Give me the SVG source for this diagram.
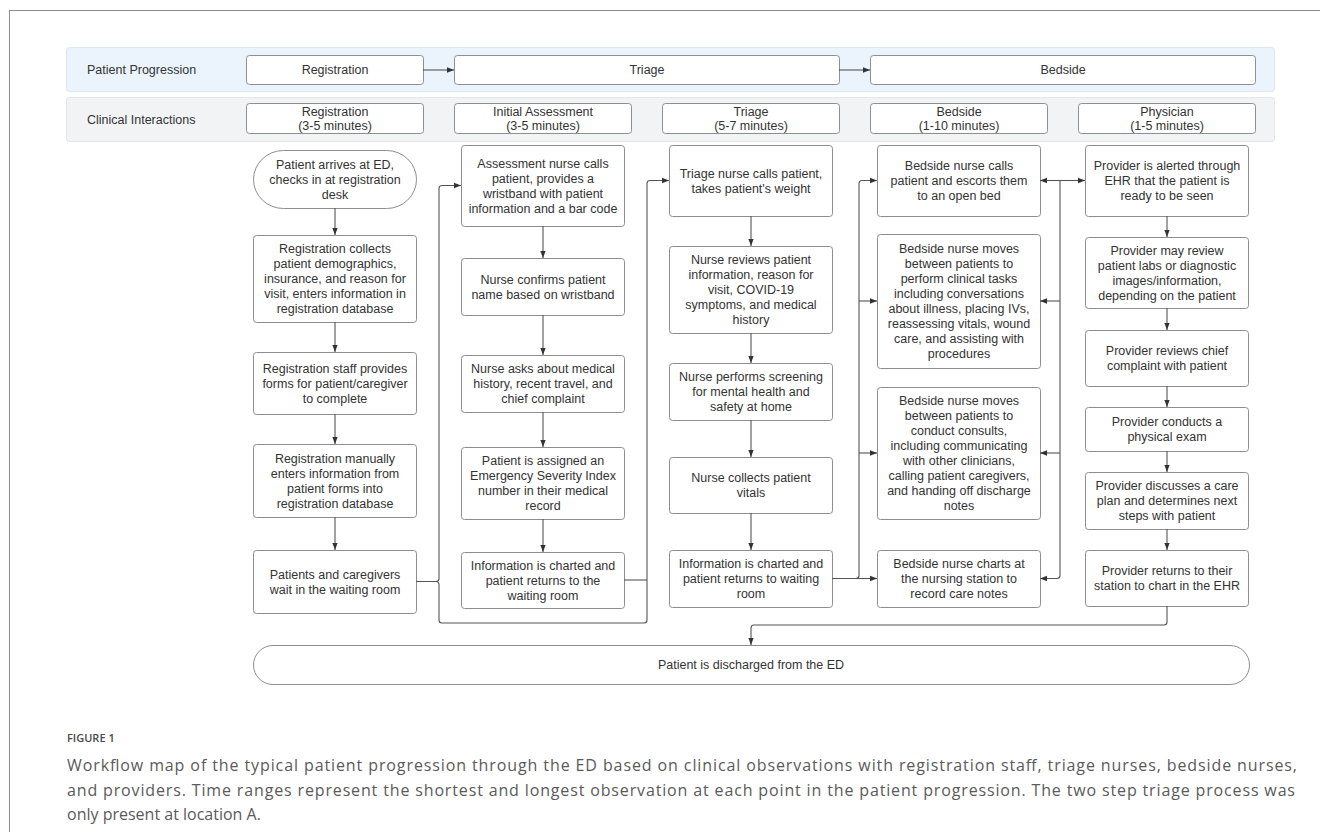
<svg xmlns="http://www.w3.org/2000/svg" width="1320" height="832" viewBox="0 0 1320 832">
<defs>
<style>
.frame{fill:none;stroke:#8c8c8c;stroke-width:1}
.band1{fill:#ebf3fc;stroke:#dbe6f3;stroke-width:1}
.band2{fill:#f2f3f5;stroke:#e3e5e8;stroke-width:1}
.box{fill:#ffffff;stroke:#8e8e8e;stroke-width:1}
.lbl{font-family:"Liberation Sans",Arial,sans-serif;font-size:12.5px;fill:#333333}
.t{font-family:"Liberation Sans",Arial,sans-serif;font-size:12.5px;fill:#333333;text-anchor:middle}
.conn{fill:none;stroke:#555555;stroke-width:1.1;stroke-linejoin:round}
.cap{font-family:"Open Sans","Liberation Sans",sans-serif;font-size:16px;fill:#5a5a5a}
.fig{font-family:"Open Sans","Liberation Sans",sans-serif;font-size:11px;font-weight:600;fill:#4a4a4a}
</style>
<marker id="ah" viewBox="0 0 10 10" refX="10" refY="5" markerWidth="7" markerHeight="7" markerUnits="userSpaceOnUse" orient="auto">
<path d="M0,1.2 L10,5 L0,8.8 z" fill="#333333"/>
</marker>
</defs>
<rect width="1320" height="832" fill="#ffffff"/>
<rect class="frame" x="9.5" y="10.5" width="1400" height="900"/>

<g id="band-progression">
<rect class="band1" x="66.5" y="47.5" width="1208" height="44" rx="3"/>
<text class="lbl" x="87" y="73.5">Patient Progression</text>
</g>
<g id="band-clinical">
<rect class="band2" x="66.5" y="97.5" width="1208" height="44" rx="3"/>
<text class="lbl" x="87" y="123.5">Clinical Interactions</text>
</g>

<g id="prog-registration"><rect class="box" x="246.5" y="55.5" width="177" height="29" rx="3"/><text class="t" x="335" y="74">Registration</text></g>
<g id="prog-triage"><rect class="box" x="454.5" y="55.5" width="385" height="29" rx="3"/><text class="t" x="647" y="74">Triage</text></g>
<g id="prog-bedside"><rect class="box" x="870.5" y="55.5" width="385" height="29" rx="3"/><text class="t" x="1063" y="74">Bedside</text></g>

<g id="hdr-registration"><rect class="box" x="246.5" y="103.5" width="177" height="30" rx="3"/><text class="t" x="335" y="115.5">Registration</text><text class="t" x="335" y="129.5">(3-5 minutes)</text></g>
<g id="hdr-initial"><rect class="box" x="454.5" y="103.5" width="177" height="30" rx="3"/><text class="t" x="543" y="115.5">Initial Assessment</text><text class="t" x="543" y="129.5">(3-5 minutes)</text></g>
<g id="hdr-triage"><rect class="box" x="662.5" y="103.5" width="177" height="30" rx="3"/><text class="t" x="751" y="115.5">Triage</text><text class="t" x="751" y="129.5">(5-7 minutes)</text></g>
<g id="hdr-bedside"><rect class="box" x="870.5" y="103.5" width="177" height="30" rx="3"/><text class="t" x="959" y="115.5">Bedside</text><text class="t" x="959" y="129.5">(1-10 minutes)</text></g>
<g id="hdr-physician"><rect class="box" x="1078.5" y="103.5" width="177" height="30" rx="3"/><text class="t" x="1167" y="115.5">Physician</text><text class="t" x="1167" y="129.5">(1-5 minutes)</text></g>

<!-- Column 1 -->
<g id="n-arrive"><rect class="box" x="253.5" y="150.5" width="163" height="58" rx="30" ry="29"/>
<text class="t" x="335" y="168.5">Patient arrives at ED,</text><text class="t" x="335" y="183.5">checks in at registration</text><text class="t" x="335" y="198.5">desk</text></g>
<g id="n-regcollects"><rect class="box" x="253.5" y="235.5" width="163" height="87" rx="3"/>
<text class="t" x="335" y="253">Registration collects</text><text class="t" x="335" y="268">patient demographics,</text><text class="t" x="335" y="283">insurance, and reason for</text><text class="t" x="335" y="298">visit, enters information in</text><text class="t" x="335" y="313">registration database</text></g>
<g id="n-regforms"><rect class="box" x="253.5" y="352.5" width="163" height="62" rx="3"/>
<text class="t" x="335" y="372.5">Registration staff provides</text><text class="t" x="335" y="387.5">forms for patient/caregiver</text><text class="t" x="335" y="402.5">to complete</text></g>
<g id="n-regmanual"><rect class="box" x="253.5" y="444.5" width="163" height="73" rx="3"/>
<text class="t" x="335" y="462.5">Registration manually</text><text class="t" x="335" y="477.5">enters information from</text><text class="t" x="335" y="492.5">patient forms into</text><text class="t" x="335" y="507.5">registration database</text></g>
<g id="n-wait"><rect class="box" x="253.5" y="550.5" width="163" height="63" rx="3"/>
<text class="t" x="335" y="578.5">Patients and caregivers</text><text class="t" x="335" y="593.5">wait in the waiting room</text></g>

<!-- Column 2 -->
<g id="n-assess"><rect class="box" x="461.5" y="145.5" width="163" height="81" rx="3"/>
<text class="t" x="543" y="167.5">Assessment nurse calls</text><text class="t" x="543" y="182.5">patient, provides a</text><text class="t" x="543" y="197.5">wristband with patient</text><text class="t" x="543" y="212.5">information and a bar code</text></g>
<g id="n-confirm"><rect class="box" x="461.5" y="258.5" width="163" height="57" rx="3"/>
<text class="t" x="543" y="283.5">Nurse confirms patient</text><text class="t" x="543" y="298.5">name based on wristband</text></g>
<g id="n-asks"><rect class="box" x="461.5" y="355.5" width="163" height="57" rx="3"/>
<text class="t" x="543" y="373">Nurse asks about medical</text><text class="t" x="543" y="388">history, recent travel, and</text><text class="t" x="543" y="403">chief complaint</text></g>
<g id="n-esi"><rect class="box" x="461.5" y="447.5" width="163" height="72" rx="3"/>
<text class="t" x="543" y="465">Patient is assigned an</text><text class="t" x="543" y="480">Emergency Severity Index</text><text class="t" x="543" y="495">number in their medical</text><text class="t" x="543" y="510">record</text></g>
<g id="n-info1"><rect class="box" x="461.5" y="552.5" width="163" height="56" rx="3"/>
<text class="t" x="543" y="569.5">Information is charted and</text><text class="t" x="543" y="584.5">patient returns to the</text><text class="t" x="543" y="599.5">waiting room</text></g>

<!-- Column 3 -->
<g id="n-triagecall"><rect class="box" x="669.5" y="145.5" width="163" height="71" rx="3"/>
<text class="t" x="751" y="177.5">Triage nurse calls patient,</text><text class="t" x="751" y="192.5">takes patient's weight</text></g>
<g id="n-reviews"><rect class="box" x="669.5" y="246.5" width="163" height="87" rx="3"/>
<text class="t" x="751" y="264">Nurse reviews patient</text><text class="t" x="751" y="279">information, reason for</text><text class="t" x="751" y="294">visit, COVID-19</text><text class="t" x="751" y="309">symptoms, and medical</text><text class="t" x="751" y="324">history</text></g>
<g id="n-screen"><rect class="box" x="669.5" y="363.5" width="163" height="57" rx="3"/>
<text class="t" x="751" y="381">Nurse performs screening</text><text class="t" x="751" y="396">for mental health and</text><text class="t" x="751" y="411">safety at home</text></g>
<g id="n-vitals"><rect class="box" x="669.5" y="457.5" width="163" height="56" rx="3"/>
<text class="t" x="751" y="482">Nurse collects patient</text><text class="t" x="751" y="497">vitals</text></g>
<g id="n-info2"><rect class="box" x="669.5" y="550.5" width="163" height="57" rx="3"/>
<text class="t" x="751" y="568">Information is charted and</text><text class="t" x="751" y="583">patient returns to waiting</text><text class="t" x="751" y="598">room</text></g>

<!-- Column 4 -->
<g id="n-bedcall"><rect class="box" x="877.5" y="145.5" width="163" height="71" rx="3"/>
<text class="t" x="959" y="170">Bedside nurse calls</text><text class="t" x="959" y="185">patient and escorts them</text><text class="t" x="959" y="200">to an open bed</text></g>
<g id="n-tasks"><rect class="box" x="877.5" y="234.5" width="163" height="134" rx="3"/>
<text class="t" x="959" y="253">Bedside nurse moves</text><text class="t" x="959" y="268">between patients to</text><text class="t" x="959" y="283">perform clinical tasks</text><text class="t" x="959" y="298">including conversations</text><text class="t" x="959" y="313">about illness, placing IVs,</text><text class="t" x="959" y="328">reassessing vitals, wound</text><text class="t" x="959" y="343">care, and assisting with</text><text class="t" x="959" y="358">procedures</text></g>
<g id="n-consults"><rect class="box" x="877.5" y="387.5" width="163" height="132" rx="3"/>
<text class="t" x="959" y="405">Bedside nurse moves</text><text class="t" x="959" y="420">between patients to</text><text class="t" x="959" y="435">conduct consults,</text><text class="t" x="959" y="450">including communicating</text><text class="t" x="959" y="465">with other clinicians,</text><text class="t" x="959" y="480">calling patient caregivers,</text><text class="t" x="959" y="495">and handing off discharge</text><text class="t" x="959" y="510">notes</text></g>
<g id="n-bedcharts"><rect class="box" x="877.5" y="550.5" width="163" height="57" rx="3"/>
<text class="t" x="959" y="568">Bedside nurse charts at</text><text class="t" x="959" y="583">the nursing station to</text><text class="t" x="959" y="598">record care notes</text></g>

<!-- Column 5 -->
<g id="n-alerted"><rect class="box" x="1085.5" y="145.5" width="163" height="71" rx="3"/>
<text class="t" x="1167" y="170">Provider is alerted through</text><text class="t" x="1167" y="185">EHR that the patient is</text><text class="t" x="1167" y="200">ready to be seen</text></g>
<g id="n-labs"><rect class="box" x="1085.5" y="237.5" width="163" height="71" rx="3"/>
<text class="t" x="1167" y="254.5">Provider may review</text><text class="t" x="1167" y="269.5">patient labs or diagnostic</text><text class="t" x="1167" y="284.5">images/information,</text><text class="t" x="1167" y="299.5">depending on the patient</text></g>
<g id="n-chief"><rect class="box" x="1085.5" y="330.5" width="163" height="56" rx="3"/>
<text class="t" x="1167" y="355">Provider reviews chief</text><text class="t" x="1167" y="370">complaint with patient</text></g>
<g id="n-exam"><rect class="box" x="1085.5" y="407.5" width="163" height="44" rx="3"/>
<text class="t" x="1167" y="426">Provider conducts a</text><text class="t" x="1167" y="441">physical exam</text></g>
<g id="n-careplan"><rect class="box" x="1085.5" y="472.5" width="163" height="57" rx="3"/>
<text class="t" x="1167" y="490">Provider discusses a care</text><text class="t" x="1167" y="505">plan and determines next</text><text class="t" x="1167" y="520">steps with patient</text></g>
<g id="n-provchart"><rect class="box" x="1085.5" y="550.5" width="163" height="56" rx="3"/>
<text class="t" x="1167" y="575">Provider returns to their</text><text class="t" x="1167" y="590">station to chart in the EHR</text></g>

<!-- Discharge -->
<g id="n-discharge"><rect class="box" x="253.5" y="645.5" width="996" height="39" rx="19.5"/>
<text class="t" x="751" y="669">Patient is discharged from the ED</text></g>

<g id="connectors">
<path class="conn" d="M423,70 H454" marker-end="url(#ah)"/>
<path class="conn" d="M839,70 H870" marker-end="url(#ah)"/>
<!-- col1 -->
<path class="conn" d="M335,208 V235" marker-end="url(#ah)"/>
<path class="conn" d="M335,322 V352" marker-end="url(#ah)"/>
<path class="conn" d="M335,414 V444" marker-end="url(#ah)"/>
<path class="conn" d="M335,517 V550" marker-end="url(#ah)"/>
<!-- col2 -->
<path class="conn" d="M543,226 V258" marker-end="url(#ah)"/>
<path class="conn" d="M543,315 V355" marker-end="url(#ah)"/>
<path class="conn" d="M543,412 V447" marker-end="url(#ah)"/>
<path class="conn" d="M543,519 V552" marker-end="url(#ah)"/>
<!-- col3 -->
<path class="conn" d="M751,216 V246" marker-end="url(#ah)"/>
<path class="conn" d="M751,333 V363" marker-end="url(#ah)"/>
<path class="conn" d="M751,420 V457" marker-end="url(#ah)"/>
<path class="conn" d="M751,513 V550" marker-end="url(#ah)"/>
<!-- col5 -->
<path class="conn" d="M1167,216 V237" marker-end="url(#ah)"/>
<path class="conn" d="M1167,308 V330" marker-end="url(#ah)"/>
<path class="conn" d="M1167,386 V407" marker-end="url(#ah)"/>
<path class="conn" d="M1167,451 V472" marker-end="url(#ah)"/>
<path class="conn" d="M1167,529 V550" marker-end="url(#ah)"/>
<!-- registration to assessment / triage -->
<path class="conn" d="M416,581.5 H436 Q439,581.5 439,578.5 V188.5 Q439,185.5 442,185.5 H461" marker-end="url(#ah)"/>
<path class="conn" d="M436,581.5 Q439,581.5 439,584.5 V620 Q439,623 442,623 H644 Q647,623 647,620 V183.5 Q647,180.5 650,180.5 H669" marker-end="url(#ah)"/>
<path class="conn" d="M624,580 H647"/>
<!-- triage to bedside -->
<path class="conn" d="M832,578.5 H856 Q859,578.5 859,575.5 V183.5 Q859,180.5 862,180.5 H877" marker-end="url(#ah)"/>
<path class="conn" d="M859,301 H877" marker-end="url(#ah)"/>
<path class="conn" d="M859,453 H877" marker-end="url(#ah)"/>
<path class="conn" d="M856,578.5 H877" marker-end="url(#ah)"/>
<!-- bedside / provider bus -->
<path class="conn" d="M1060,180.5 V575.5 Q1060,578.5 1057,578.5 H1040" marker-end="url(#ah)"/>
<path class="conn" d="M1060,180.5 H1040" marker-end="url(#ah)"/>
<path class="conn" d="M1060,180.5 H1085" marker-end="url(#ah)"/>
<path class="conn" d="M1060,301 H1040" marker-end="url(#ah)"/>
<path class="conn" d="M1060,453 H1040" marker-end="url(#ah)"/>
<!-- to discharge -->
<path class="conn" d="M1167,606 V622 Q1167,625 1164,625 H754 Q751,625 751,628 V645" marker-end="url(#ah)"/>
</g>

<g id="caption">
<text class="fig" x="67" y="742">FIGURE 1</text>
<text class="cap" x="67" y="771" textLength="1230" lengthAdjust="spacing">Workflow map of the typical patient progression through the ED based on clinical observations with registration staff, triage nurses, bedside nurses,</text>
<text class="cap" x="67" y="796" textLength="1228" lengthAdjust="spacing">and providers. Time ranges represent the shortest and longest observation at each point in the patient progression. The two step triage process was</text>
<text class="cap" x="67" y="820">only present at location A.</text>
</g>
</svg>
